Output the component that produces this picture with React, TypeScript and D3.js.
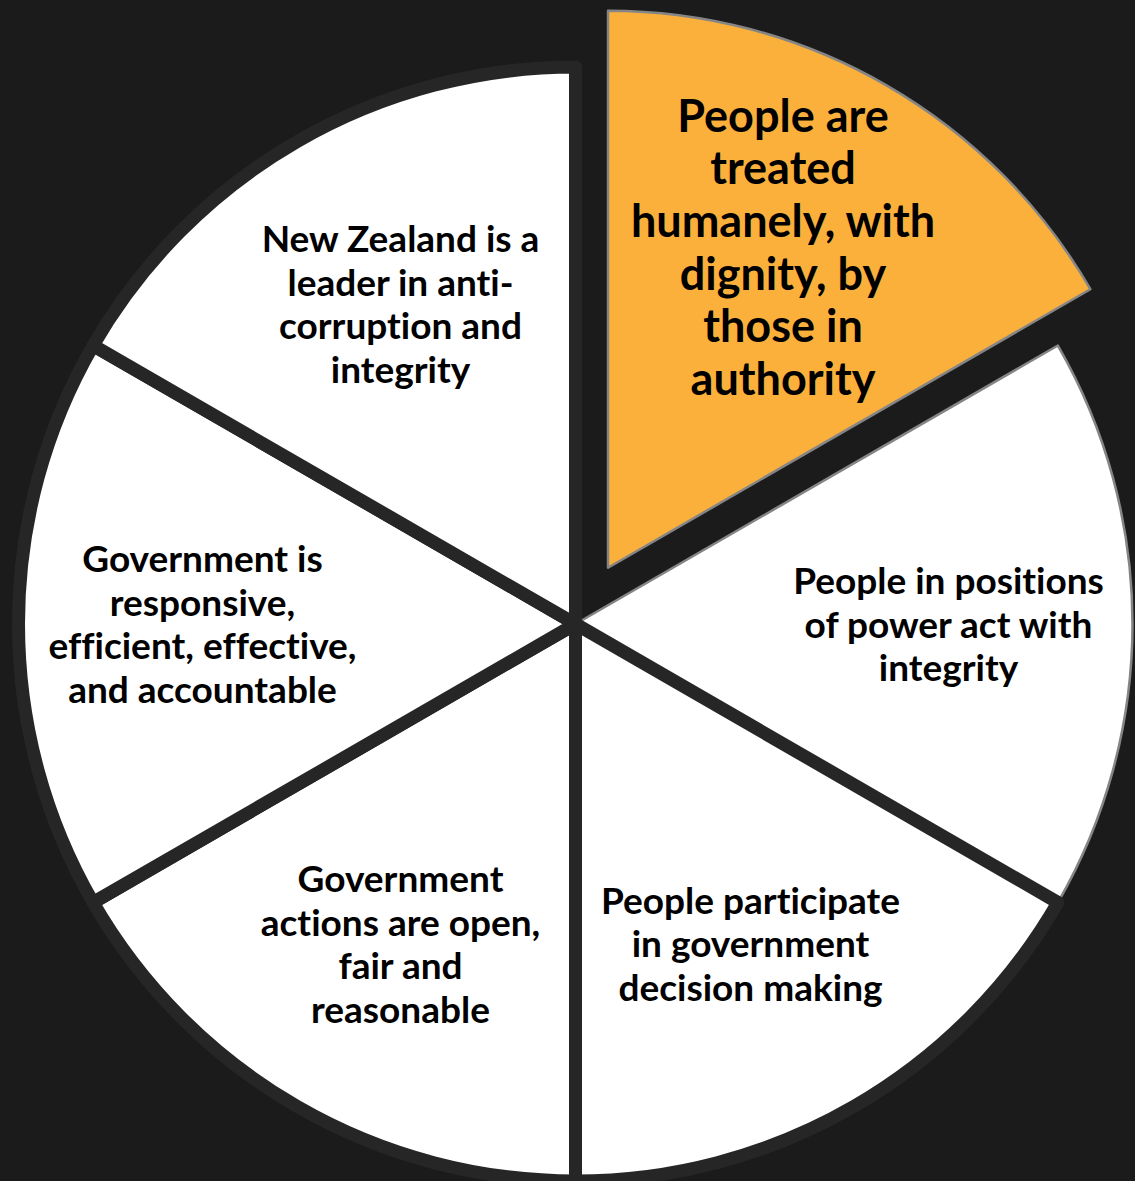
import React from 'react';
import * as d3 from 'd3';

// six equal segments, clockwise from 12 o'clock
const segments = [
  'Humane treatment',
  'Power with integrity',
  'Participation',
  'Open government',
  'Responsive government',
  'Anti-corruption leader',
];
const values = [1, 1, 1, 1, 1, 1];
const labelLines = [
  ['People are', 'treated', 'humanely, with', 'dignity, by', 'those in', 'authority'],
  ['People in positions', 'of power act with', 'integrity'],
  ['People participate', 'in government', 'decision making'],
  ['Government', 'actions are open,', 'fair and', 'reasonable'],
  ['Government is', 'responsive,', 'efficient, effective,', 'and accountable'],
  ['New Zealand is a', 'leader in anti-', 'corruption and', 'integrity'],
];
const highlighted = 'Humane treatment';

const W = 1135;
const H = 1181;
const cx = 575.5;
const cy = 624;
const R = 557;

const App: React.FC = () => {
  const pie = d3.pie<number>().value(d => d).sort(null).startAngle(0).endAngle(2 * Math.PI);
  const arcs = pie(values);
  const arc = d3.arc<d3.PieArcDatum<number>>().innerRadius(0).outerRadius(R);

  const explode = 65;
  const midAngle = (a: d3.PieArcDatum<number>) => (a.startAngle + a.endAngle) / 2;
  const offset = (a: d3.PieArcDatum<number>, i: number) => {
    if (segments[i] !== highlighted) return [0, 0];
    const mid = midAngle(a);
    return [Math.sin(mid) * explode, -Math.cos(mid) * explode];
  };
  // text boxes sit a bit closer in on the diagonals than on the sides
  const labelPos = (a: d3.PieArcDatum<number>) => {
    const s = Math.sin(midAngle(a));
    const c = Math.cos(midAngle(a));
    const x = Math.abs(s) < 1e-6 ? 0 : s * 396 - Math.sign(s) * 23;
    return [x, -c * 369.5];
  };

  const strokeFor = (i: number) => (i <= 1 ? '#858585' : '#262626');
  const widthFor = (i: number) => (i <= 1 ? 2.5 : 13);

  return (
    <svg width={W} height={H} style={{ position: 'absolute', left: 0, top: 0, display: 'block' }}>
      <rect width={W} height={H} fill="#1b1b1b" />
      <g transform={`translate(${cx},${cy})`}>
        {arcs.map((a, i) => {
          const [ox, oy] = offset(a, i);
          return (
            <path
              key={segments[i]}
              d={arc(a) as string}
              transform={`translate(${ox},${oy})`}
              fill={segments[i] === highlighted ? '#fbb03b' : '#ffffff'}
              stroke={strokeFor(i)}
              strokeWidth={widthFor(i)}
              strokeLinejoin="round"
            />
          );
        })}
        {arcs.map((a, i) => {
          const [ox, oy] = offset(a, i);
          const [lx, ly] = labelPos(a);
          const big = segments[i] === highlighted;
          const lh = big ? 52.6 : 43.7;
          const lines = labelLines[i];
          const y0 = ly + oy - ((lines.length - 1) / 2) * lh - 1.5;
          return (
            <text
              key={'t' + i}
              textAnchor="middle"
              dominantBaseline="central"
              fontFamily="Lato, 'Open Sans', sans-serif"
              fontWeight={700}
              fontSize={big ? 45 : 37}
              fill="#000"
              style={{ fontVariantLigatures: 'none' }}
            >
              {lines.map((l, j) => (
                <tspan key={j} x={lx + ox} y={y0 + j * lh}>
                  {l}
                </tspan>
              ))}
            </text>
          );
        })}
      </g>
    </svg>
  );
};

export default App;
